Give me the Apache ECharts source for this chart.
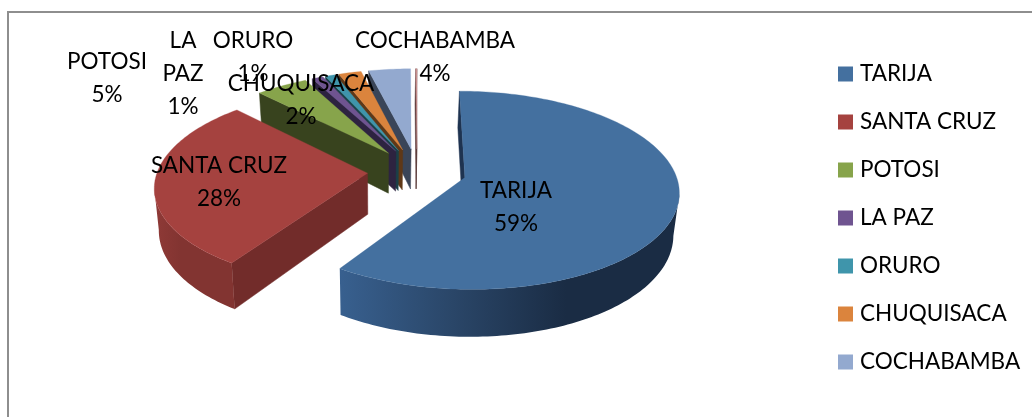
<!DOCTYPE html>
<html>
<head>
<meta charset="utf-8">
<title>Pie</title>
<style>
	html, body { margin: 0; padding: 0; background: #fff; overflow: hidden; }
	#chart { width: 1032px; height: 417px; }
</style>
<script src="https://cdn.jsdelivr.net/npm/echarts@6/dist/echarts.min.js"></script>
</head>
<body>
<div id="chart"></div>
<script>
// datos
var categories = ['TARIJA', 'SANTA CRUZ', 'POTOSI', 'LA PAZ', 'ORURO', 'CHUQUISACA', 'COCHABAMBA', ''];
var values = [59.3, 28.4, 4.6, 1, 0.9, 2, 3.7, 0.1];
var labelLines = ['TARIJA', 'SANTA CRUZ', 'POTOSI', 'LA\nPAZ', 'ORURO', 'CHUQUISACA', 'COCHABAMBA'];

// estilos
var topColors = ['#44709f', '#a5423f', '#87a44b', '#6f5490', '#3f95ab', '#db843d', '#93a9cf', '#d19392'];
var wallColors = ['#1e3350', '#722c2a', '#38431e', '#2d2340', '#1a4048', '#5f3817', '#3a4558', '#5a3a39'];
var curveColors = [
	['#38608f', '#2a4668', '#1a2c44', '#1a2c44'],
	['#8f3a37', '#823431', '#823431', '#823431'],
	['#38431e', '#38431e', '#38431e', '#38431e'],
	['#2d2340', '#2d2340', '#2d2340', '#2d2340'],
	['#1a4048', '#1a4048', '#1a4048', '#1a4048'],
	['#5f3817', '#5f3817', '#5f3817', '#5f3817'],
	['#3a4558', '#3a4558', '#3a4558', '#3a4558'],
	['#5a3a39', '#5a3a39', '#5a3a39', '#5a3a39']
];
// centro de cada etiqueta (x, y primera linea)
var labelPos = [[516, 191], [219, 166], [107, 62], [183, 41], [253, 41], [301, 84], [435, 41]];
var lineHeight = 33;

// proyeccion del pastel
var cx = 417, cy = 171, radiusX = 210, radiusY = 95.8, persp = 0.127, depth = 41, explode = 0.236;

var total = values.reduce(function (a, b) { return a + b; }, 0);

function project(x, y, down) {
	var w = 1 + persp * y;
	var sx = cx + radiusX * x / w;
	var sy = cy - radiusY * y / w;
	if (down) {
		sx = sx - 0.02 * (sx - 380);
		sy = sy + depth / w;
	}
	return [sx, sy];
}

function buildSlice(index, value, before) {
	var start = before / total * Math.PI * 2;
	var end = (before + value) / total * Math.PI * 2;
	var mid = (start + end) / 2;
	var ox = explode * Math.sin(mid), oy = explode * Math.cos(mid);
	var steps = Math.max(2, Math.ceil((end - start) / 0.02));
	var arc = [], i, a;
	for (i = 0; i <= steps; i++) {
		a = start + (end - start) * i / steps;
		arc.push([ox + Math.sin(a), oy + Math.cos(a)]);
	}
	var apex = [ox, oy];
	var children = [];

	function wall(p, q, fill) {
		children.push({
			type: 'polygon',
			shape: { points: [project(p[0], p[1]), project(q[0], q[1]), project(q[0], q[1], true), project(p[0], p[1], true)] },
			style: { fill: fill, stroke: fill, lineWidth: 0.5 }
		});
	}

	// solo las caras que miran al frente
	if (project(arc[0][0], arc[0][1])[0] < project(apex[0], apex[1])[0]) wall(apex, arc[0], wallColors[index]);
	var last = arc[arc.length - 1];
	if (project(apex[0], apex[1])[0] < project(last[0], last[1])[0]) wall(last, apex, wallColors[index]);

	var front = [];
	for (i = 0; i < arc.length - 1; i++) {
		if (project(arc[i + 1][0], arc[i + 1][1])[0] < project(arc[i][0], arc[i][1])[0]) {
			if (!front.length) front.push(arc[i]);
			front.push(arc[i + 1]);
		}
	}
	if (front.length) {
		var pts = front.map(function (p) { return project(p[0], p[1]); });
		var low = front.slice().reverse().map(function (p) { return project(p[0], p[1], true); });
		var stops = curveColors[index].map(function (c, k, all) {
			return { offset: k / (all.length - 1), color: c };
		});
		children.push({
			type: 'polygon',
			shape: { points: pts.concat(low) },
			style: { fill: new echarts.graphic.LinearGradient(0, 0, 1, 0, stops) }
		});
	}

	var top = [project(apex[0], apex[1])].concat(arc.map(function (p) { return project(p[0], p[1]); }));
	children.push({
		type: 'polygon',
		shape: { points: top },
		style: { fill: topColors[index], stroke: topColors[index], lineWidth: 0.3 }
	});
	return { type: 'group', children: children };
}

var series = [];
var acc = 0;
categories.forEach(function (name, i) {
	series.push({
		type: 'custom',
		name: name,
		coordinateSystem: 'none',
		// atras primero: de Cochabamba hacia Potosi, luego Santa Cruz y Tarija
		z: i < 2 ? 20 - i : 12 - i,
		silent: true,
		itemStyle: { color: topColors[i] },
		data: [[values[i], acc]],
		renderItem: function (params, api) {
			return buildSlice(i, api.value(0), api.value(1));
		}
	});
	acc += values[i];
});

series.push({
	type: 'custom',
	name: 'labels',
	coordinateSystem: 'none',
	z: 30,
	silent: true,
	data: labelLines.map(function (t, i) { return [i, values[i]]; }),
	renderItem: function (params, api) {
		var i = api.value(0);
		var text = labelLines[i] + '\n' + Math.round(api.value(1)) + '%';
		return {
			type: 'text',
			style: {
				x: labelPos[i][0],
				y: labelPos[i][1] - lineHeight / 2,
				text: text,
				fill: '#000',
				font: '22.5px Lato',
				lineHeight: lineHeight,
				align: 'center',
				verticalAlign: 'top'
			}
		};
	}
});

var chart = echarts.init(document.getElementById('chart'), null, { renderer: 'canvas' });
chart.setOption({
	animation: false,
	backgroundColor: '#fff',
	tooltip: { show: false },
	legend: {
		orient: 'vertical',
		left: 833,
		top: 57,
		icon: 'rect',
		itemWidth: 15,
		itemHeight: 15,
		itemGap: 24,
		data: categories.slice(0, 7),
		selectedMode: false,
		textStyle: { fontFamily: 'Lato', fontSize: 22.5, color: '#000', padding: [0, 0, 0, 2], lineHeight: 24 }
	},
	graphic: [{
		type: 'polyline',
		silent: true,
		shape: { points: [[8, 417], [8, 12], [1032, 12]] },
		style: { fill: null, stroke: '#8e8e8e', lineWidth: 2 }
	}],
	series: series
});
</script>
</body>
</html>
